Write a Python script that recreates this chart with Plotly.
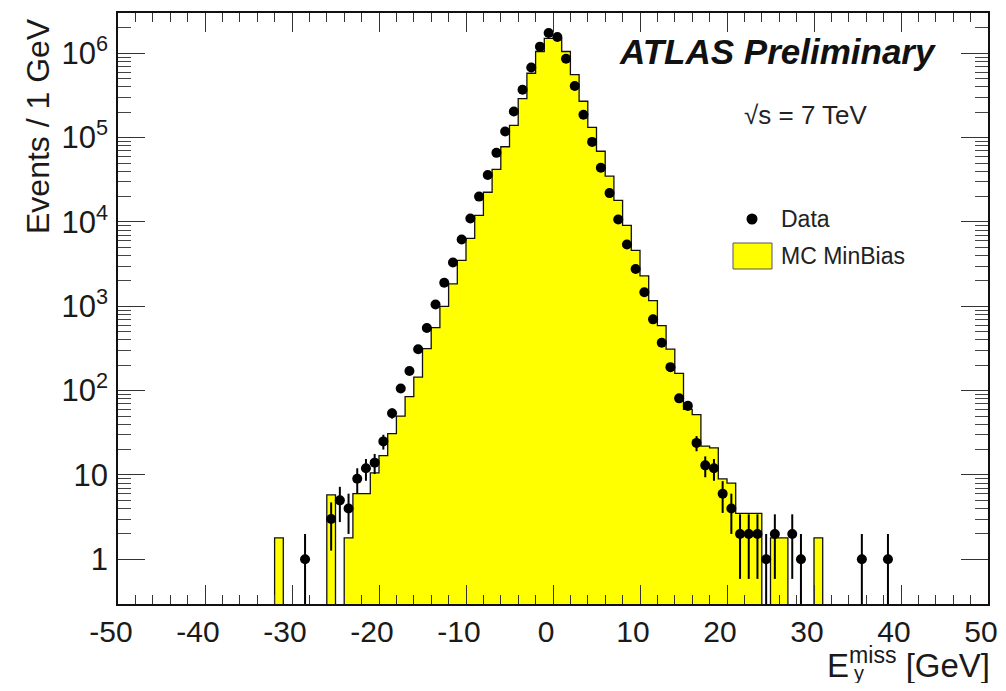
import math
import plotly.graph_objects as go

# ---------------- data ----------------
# Data: bin centres (GeV) and event counts per 1 GeV bin
DATA_X = [-28.5, -25.5, -24.5, -23.5, -22.5, -21.5, -20.5, -19.5, -18.5, -17.5,
          -16.5, -15.5, -14.5, -13.5, -12.5, -11.5, -10.5, -9.5, -8.5, -7.5,
          -6.5, -5.5, -4.5, -3.5, -2.5, -1.5, -0.5, 0.5, 1.5, 2.5,
          3.5, 4.5, 5.5, 6.5, 7.5, 8.5, 9.5, 10.5, 11.5, 12.5,
          13.5, 14.5, 15.5, 16.5, 17.5, 18.5, 19.5, 20.5, 21.5, 22.5,
          23.5, 24.5, 25.5, 27.5, 28.5, 35.5, 38.5]
DATA_Y = [1, 3, 5, 4, 9, 12, 14, 25, 54, 106,
          171, 310, 553, 1050, 1900, 3300, 6200, 11000, 20000, 36000,
          66000, 118000, 204000, 370000, 680000, 1200000, 1740000, 1560000, 860000, 410000,
          187000, 89000, 44000, 22000, 10700, 5400, 2770, 1470, 700, 370,
          190, 81, 66, 24, 13, 12, 6, 4, 2, 2,
          2, 1, 2, 2, 1, 1, 1]

# MC MinBias: bin centres (GeV) and normalised entries (non-empty bins only)
MC_X = [-31.5, -25.5, -23.5, -22.5, -21.5, -20.5, -19.5, -18.5, -17.5, -16.5,
        -15.5, -14.5, -13.5, -12.5, -11.5, -10.5, -9.5, -8.5, -7.5, -6.5,
        -5.5, -4.5, -3.5, -2.5, -1.5, -0.5, 0.5, 1.5, 2.5, 3.5,
        4.5, 5.5, 6.5, 7.5, 8.5, 9.5, 10.5, 11.5, 12.5, 13.5,
        14.5, 15.5, 16.5, 17.5, 18.5, 19.5, 20.5, 21.5, 22.5, 23.5,
        25.5, 26.5, 30.5]
MC_Y = [1.8, 5.8, 1.8, 6, 6, 10.6, 17, 31, 50, 85,
        145, 315, 560, 1000, 1850, 3500, 6400, 12000, 22500, 42000,
        78000, 140000, 290000, 580000, 1050000, 1500000, 1500000, 1050000, 560000, 270000,
        132000, 69000, 35000, 18000, 9100, 4600, 2300, 1170, 590, 310,
        160, 60, 52, 22, 21, 9, 8, 3.5, 3.5, 3.5,
        1.8, 1.8, 1.8]

X_TICK_VALS = [-50, -40, -30, -20, -10, 0, 10, 20, 30, 40, 50]
X_TICK_TEXT = ["-50", "-40", "-30", "-20", "-10", "0", "10", "20", "30", "40", "50"]
Y_TICK_VALS = [1, 10, 100, 1000, 10000, 100000, 1000000]
Y_TICK_TEXT = ["1", "10", "10<sup>2</sup>", "10<sup>3</sup>", "10<sup>4</sup>",
               "10<sup>5</sup>", "10<sup>6</sup>"]

X_MIN, X_MAX, BIN_W = -50, 50, 1
LOG_FLOOR = 1e-3   # brings the outline below the axis at empty bins

# ---------------- figure ----------------
FONT = "Liberation Sans, Arial, Helvetica, sans-serif"
YELLOW = "#ffff00"
TXT = "#1a1a1a"

mc_map = {round(x - 0.5): y for x, y in zip(MC_X, MC_Y)}
edges = list(range(X_MIN, X_MAX + BIN_W, BIN_W))
vals = [mc_map.get(e, 0) for e in edges[:-1]]
vals = [v if v > 0 else LOG_FLOOR for v in vals]
out_y = vals + [vals[-1]]

fig = go.Figure()
fig.add_trace(go.Bar(x=MC_X, y=MC_Y, width=BIN_W, marker=dict(color=YELLOW, line=dict(width=0)),
                     showlegend=False, hoverinfo="skip"))
fig.add_trace(go.Scatter(x=edges, y=out_y, mode="lines", line=dict(color="#111", width=1.3, shape="hv"),
                         showlegend=False, hoverinfo="skip"))
fig.add_trace(go.Scatter(x=DATA_X, y=DATA_Y, mode="markers",
                         marker=dict(color="black", size=10),
                         error_y=dict(type="data", array=[math.sqrt(v) for v in DATA_Y],
                                      color="black", thickness=2, width=0),
                         showlegend=False))

# page is shown with an 8px body margin: size the figure to fit the 1006x691 window
W, H = 990, 675
OFF = 8
SL, SR, ST, SB = 118, 988, 13, 604          # plot area in window pixels
fig.update_layout(
    width=W, height=H,
    margin=dict(l=SL - OFF, r=W - (SR - OFF), t=ST - OFF, b=H - (SB - OFF)),
    paper_bgcolor="white", plot_bgcolor="white",
    bargap=0,
    font=dict(family=FONT, color=TXT),
    showlegend=False,
)

fig.update_xaxes(
    range=[X_MIN, X_MAX], showgrid=False, zeroline=False, automargin=False,
    showline=True, linecolor="#111", linewidth=1.5, mirror="allticks",
    ticks="inside", ticklen=19, tickwidth=1, tickcolor="#333",
    tickmode="array", tickvals=X_TICK_VALS, ticktext=X_TICK_TEXT,
    tickfont=dict(size=30, family=FONT, color=TXT),
    ticklabelshift=-7, ticklabeloverflow="allow",
    minor=dict(ticks="inside", ticklen=9, tickwidth=1, tickcolor="#333", dtick=2, showgrid=False),
)
minor_y = [m * d for d in Y_TICK_VALS for m in range(2, 10)]
fig.update_yaxes(
    type="log", range=[-0.53, 6.478], showgrid=False, zeroline=False, automargin=False,
    showline=True, linecolor="#111", linewidth=1.5, mirror="allticks",
    ticks="inside", ticklen=27, tickwidth=1, tickcolor="#333",
    tickmode="array", tickvals=Y_TICK_VALS, ticktext=Y_TICK_TEXT,
    tickfont=dict(size=31, family=FONT, color=TXT),
    ticklabelstandoff=2,
    minor=dict(ticks="inside", ticklen=13, tickwidth=1, tickcolor="#444",
               tickmode="array", tickvals=minor_y, showgrid=False),
)


def px(xs):
    return (xs - SL) / (SR - SL)


def py(ys):
    return 1 - (ys - ST) / (SB - ST)


ann = [
    dict(text="Events / 1 GeV", textangle=-90, x=px(38), y=py(16), xanchor="center", yanchor="top",
         font=dict(size=32, family=FONT, color=TXT)),
    dict(text="E<sup>miss</sup> [GeV]", x=px(992), y=py(663), xanchor="right", yanchor="middle",
         font=dict(size=33, family=FONT, color=TXT)),
    dict(text="y", x=px(859), y=py(673), xanchor="center", yanchor="middle",
         font=dict(size=20, family=FONT, color=TXT)),
    dict(text="<b><i>ATLAS Preliminary</i></b>", x=px(777), y=py(52), xanchor="center", yanchor="middle",
         font=dict(size=35, family=FONT, color="#111")),
    dict(text="√s = 7 TeV", x=px(806), y=py(115), xanchor="center", yanchor="middle",
         font=dict(size=26, family=FONT, color="#222")),
    dict(text="Data", x=px(779), y=py(219), xanchor="left", yanchor="middle",
         font=dict(size=23, family=FONT, color="#222")),
    dict(text="MC MinBias", x=px(779), y=py(256), xanchor="left", yanchor="middle",
         font=dict(size=23, family=FONT, color="#222")),
]
for a in ann:
    a.update(xref="paper", yref="paper", showarrow=False)
fig.update_layout(annotations=ann)

fig.add_shape(type="rect", xref="paper", yref="paper", x0=px(733), x1=px(772), y0=py(269), y1=py(243),
              fillcolor=YELLOW, line=dict(color="#555", width=1))
fig.add_shape(type="circle", xref="paper", yref="paper", x0=px(746.5), x1=px(757.5), y0=py(224.5), y1=py(213.5),
              fillcolor="black", line=dict(color="black", width=0))

fig.write_html("out.html")
